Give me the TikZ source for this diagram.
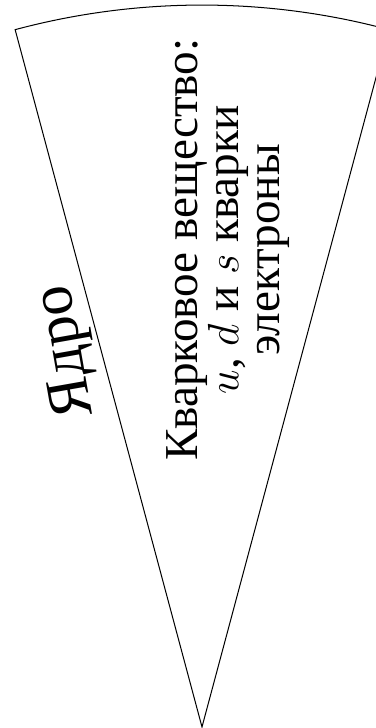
\documentclass[tikz,border=0pt]{standalone}
\usepackage{fontspec}
\setmainfont{Liberation Serif}
\begin{document}
\begin{tikzpicture}[>=stealth]
	\useasboundingbox (-2.798,-0.014) rectangle (2.410,10.07);
	% sector of the star
	\draw (0,0) coordinate (apex) -- (105:10) arc (105:75:10) -- cycle;
	\draw (-1.86,5.20) node[rotate=100,font=\fontsize{24}{28}\selectfont] (yadro) {Ядро};
	\draw (0.36,6.61) node[rotate=90,align=center,font=\fontsize{18.6}{16}\selectfont] (matter)
	{Кварковое вещество:\\ $u$, $d$ и $s$ кварки\\ электроны};
\end{tikzpicture}
\end{document}
